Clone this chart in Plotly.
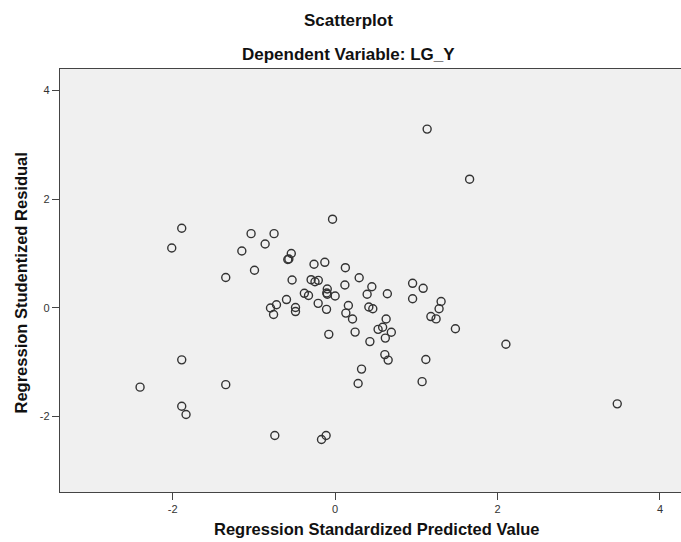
import plotly.graph_objects as go

# Regression Standardized Predicted Value
pred = [-1.889, -2.012, -1.035, -0.752, -0.862, -1.149, -0.540, -0.570, -0.583, -0.260,
        -0.993, -1.347, -0.530, -0.296, -0.248, -0.207, -0.379, -0.328, -0.599, -0.722,
        -0.796, -0.758, -0.488, -0.488, -0.209, -0.127, 0.126, -0.097, -0.103, -0.096,
        0.296, 0.120, 0.000, 0.163, -0.106, 0.132, 0.214, 0.452, 0.394, 0.643,
        0.415, 0.464, 0.954, 1.084, 0.954, 1.305, 1.280, 1.179, 1.243, 1.481,
        0.628, 0.585, 0.529, 0.692, 0.618, 0.246, -0.078, 0.428, 0.612, 0.653,
        1.117, 2.103, 0.325, 0.283, 1.071, -0.032, 1.133, 1.656, 3.474, -1.889,
        -2.402, -1.347, -1.889, -1.836, -0.743, -0.111, -0.168]
# Regression Studentized Residual
resid = [1.463, 1.099, 1.363, 1.363, 1.173, 1.044, 0.998, 0.896, 0.887, 0.799,
         0.688, 0.555, 0.509, 0.515, 0.476, 0.503, 0.264, 0.223, 0.149, 0.053,
         -0.007, -0.127, 0.002, -0.072, 0.079, 0.835, 0.736, 0.343, 0.269, 0.247,
         0.551, 0.417, 0.214, 0.039, -0.031, -0.100, -0.210, 0.385, 0.247, 0.255,
         0.011, -0.020, 0.448, 0.356, 0.164, 0.113, -0.020, -0.164, -0.207, -0.389,
         -0.210, -0.361, -0.400, -0.454, -0.561, -0.450, -0.492, -0.625, -0.865, -0.966,
         -0.954, -0.675, -1.132, -1.396, -1.363, 1.629, 3.288, 2.366, -1.772, -0.961,
         -1.464, -1.418, -1.815, -1.968, -2.355, -2.355, -2.429]

x_ticks = [-2, 0, 2, 4]
y_ticks = [-2, 0, 2, 4]

FONT = "Liberation Sans, Arial, sans-serif"
AXIS_COLOR = "#444444"
TITLE_COLOR = "#111111"

fig = go.Figure()
fig.add_trace(go.Scatter(
    x=pred, y=resid, mode="markers",
    marker=dict(symbol="circle-open", size=8, color="#333333",
                line=dict(width=1.4, color="#333333")),
    hoverinfo="x+y", showlegend=False,
))

fig.update_layout(
    width=681, height=542,
    margin=dict(l=60, r=0, t=69, b=50),
    paper_bgcolor="white",
    plot_bgcolor="#F0F0F0",
    font=dict(family=FONT, color="#333333"),
    annotations=[
        dict(text="<b>Scatterplot</b>", xref="paper", yref="paper",
             x=0.4643, y=1.1155, xanchor="center", yanchor="middle", showarrow=False,
             font=dict(family=FONT, size=17, color=TITLE_COLOR)),
        dict(text="<b>Dependent Variable: LG_Y</b>", xref="paper", yref="paper",
             x=0.4643, y=1.034, xanchor="center", yanchor="middle", showarrow=False,
             font=dict(family=FONT, size=17, color=TITLE_COLOR)),
        dict(text="<b>Regression Standardized Predicted Value</b>", xref="paper", yref="paper",
             x=0.510, y=-0.087, xanchor="center", yanchor="middle", showarrow=False,
             font=dict(family=FONT, size=16.5, color=TITLE_COLOR)),
        dict(text="<b>Regression Studentized Residual</b>", xref="paper", yref="paper",
             x=-0.063, y=0.495, xanchor="center", yanchor="middle", showarrow=False,
             textangle=-90, font=dict(family=FONT, size=16.5, color=TITLE_COLOR)),
    ],
    xaxis=dict(range=[-3.388, 4.259], tickvals=x_ticks, ticktext=[str(v) for v in x_ticks],
               showgrid=False, zeroline=False, showline=True, linecolor=AXIS_COLOR,
               linewidth=1.3, mirror=True, ticks="outside", ticklen=7, tickwidth=1.3,
               tickcolor=AXIS_COLOR, tickfont=dict(size=11, color="#333333")),
    yaxis=dict(range=[-3.395, 4.395], tickvals=y_ticks, ticktext=[str(v) for v in y_ticks],
               showgrid=False, zeroline=False, showline=True, linecolor=AXIS_COLOR,
               linewidth=1.3, mirror=False, ticks="outside", ticklen=7, tickwidth=1.3,
               tickcolor=AXIS_COLOR, tickfont=dict(size=11, color="#333333")),
)

fig.write_html("out.html")
